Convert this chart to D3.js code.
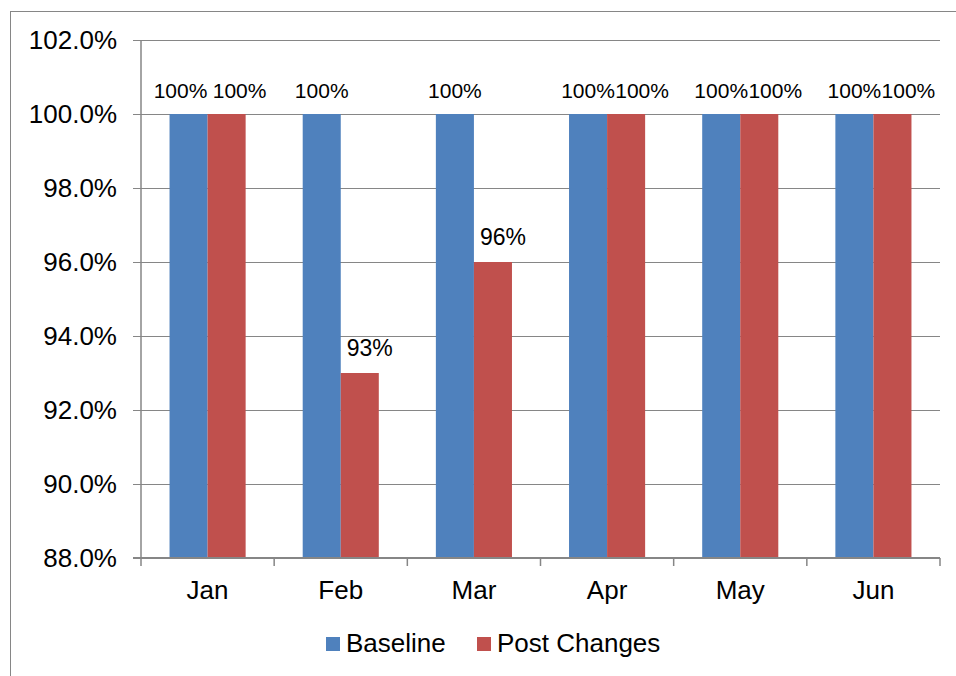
<!DOCTYPE html>
<html>
<head>
<meta charset="utf-8">
<script src="https://cdn.jsdelivr.net/npm/d3@7"></script>
<style>
  body { margin: 0; background: #fff; }
  text { font-family: "Liberation Sans", Arial, sans-serif; fill: #000; }
</style>
</head>
<body>
<div id="chart"></div>
<script>
const months = ["Jan", "Feb", "Mar", "Apr", "May", "Jun"];
const seriesNames = ["Baseline", "Post Changes"];
const baseline = [1.00, 1.00, 1.00, 1.00, 1.00, 1.00];
const postChanges = [1.00, 0.93, 0.96, 1.00, 1.00, 1.00];
const yTicks = [0.88, 0.90, 0.92, 0.94, 0.96, 0.98, 1.00, 1.02];
const colors = ["#4F81BD", "#C0504D"];
// label nudges so neighbouring labels don't collide (like Excel does)
const labelNudge = [[-8, 13], [0, 10], [0, 10], [0, 16], [0, 16], [0, 16]];

const W = 956, H = 676;
const margin = { top: 40, left: 141, right: 16, bottom: 118 };

const svg = d3.select("#chart").append("svg")
  .attr("width", W)
  .attr("height", H);

// outer chart frame
svg.append("rect")
  .attr("x", 10.5).attr("y", 11.5)
  .attr("width", 1000).attr("height", 800)
  .attr("fill", "none")
  .attr("stroke", "#868686")
  .attr("stroke-width", 1);

const x0 = d3.scaleBand()
  .domain(months)
  .range([margin.left, W - margin.right]);

const x1 = d3.scaleBand()
  .domain(seriesNames)
  .range([0, x0.bandwidth()])
  .paddingInner(0)
  .paddingOuter(0.75);

const y = d3.scaleLinear()
  .domain([0.88, 1.02])
  .range([H - margin.bottom, margin.top]);

const g = svg.append("g");

// gridlines
g.selectAll(".grid")
  .data(yTicks.filter(d => d > 0.88))
  .enter()
  .append("line")
  .attr("class", "grid")
  .attr("x1", margin.left - 8)
  .attr("x2", W - margin.right)
  .attr("y1", d => Math.round(y(d)) + 0.5)
  .attr("y2", d => Math.round(y(d)) + 0.5)
  .attr("stroke", "#868686")
  .attr("stroke-width", 1);

// tick labels
const fmt = d3.format(".1%");
g.selectAll(".ylab")
  .data(yTicks)
  .enter()
  .append("text")
  .attr("x", margin.left - 24)
  .attr("y", d => y(d) + 9)
  .attr("text-anchor", "end")
  .style("font-size", "26px")
  .text(d => fmt(d));

// bars
const rows = months.map((m, i) => ({ month: m, i: i, values: [baseline[i], postChanges[i]] }));

const groups = g.selectAll(".grp")
  .data(rows)
  .enter()
  .append("g")
  .attr("transform", d => `translate(${x0(d.month)},0)`);

groups.selectAll("rect")
  .data(d => d.values.map((v, k) => ({ v: v, k: k })))
  .enter()
  .append("rect")
  .attr("x", d => x1(seriesNames[d.k]))
  .attr("width", x1.bandwidth())
  .attr("y", d => y(d.v))
  .attr("height", d => y(0.88) - y(d.v))
  .attr("fill", d => colors[d.k]);

// data labels: the lone lower labels were drawn a bit bigger in the original
const pct = d3.format(".0%");
groups.selectAll(".dlab")
  .data(d => d.values.map((v, k) => ({ v: v, k: k, i: d.i })))
  .enter()
  .append("text")
  .attr("x", d => x1(seriesNames[d.k]) + x1.bandwidth() / 2 + labelNudge[d.i][d.k])
  .attr("y", d => y(d.v) - (d.v < 1 ? 17 : 16))
  .attr("text-anchor", "middle")
  .style("font-size", d => d.v < 1 ? "23px" : "21px")
  .text(d => pct(d.v));

// axes lines
g.append("line")
  .attr("x1", margin.left).attr("x2", margin.left)
  .attr("y1", margin.top).attr("y2", y(0.88))
  .attr("stroke", "#868686").attr("stroke-width", 1.5);

g.append("line")
  .attr("x1", margin.left - 8).attr("x2", W - margin.right)
  .attr("y1", y(0.88)).attr("y2", y(0.88))
  .attr("stroke", "#868686").attr("stroke-width", 2);

const boundaries = months.map(m => x0(m)).concat([x0.range()[1]]);
g.selectAll(".xtick")
  .data(boundaries)
  .enter()
  .append("line")
  .attr("x1", d => d).attr("x2", d => d)
  .attr("y1", y(0.88)).attr("y2", y(0.88) + 8)
  .attr("stroke", "#868686").attr("stroke-width", 1.5);

g.selectAll(".xlab")
  .data(months)
  .enter()
  .append("text")
  .attr("x", d => x0(d) + x0.bandwidth() / 2)
  .attr("y", 599)
  .attr("text-anchor", "middle")
  .style("font-size", "26px")
  .text(d => d);

// legend
const legendX = [326, 477];
const legend = svg.selectAll(".leg")
  .data(seriesNames)
  .enter()
  .append("g")
  .attr("transform", (d, i) => `translate(${legendX[i]},637)`);

legend.append("rect")
  .attr("width", 14).attr("height", 14)
  .attr("fill", (d, i) => colors[i]);

legend.append("text")
  .attr("x", 20)
  .attr("y", 15)
  .style("font-size", "26px")
  .text(d => d);
</script>
</body>
</html>
